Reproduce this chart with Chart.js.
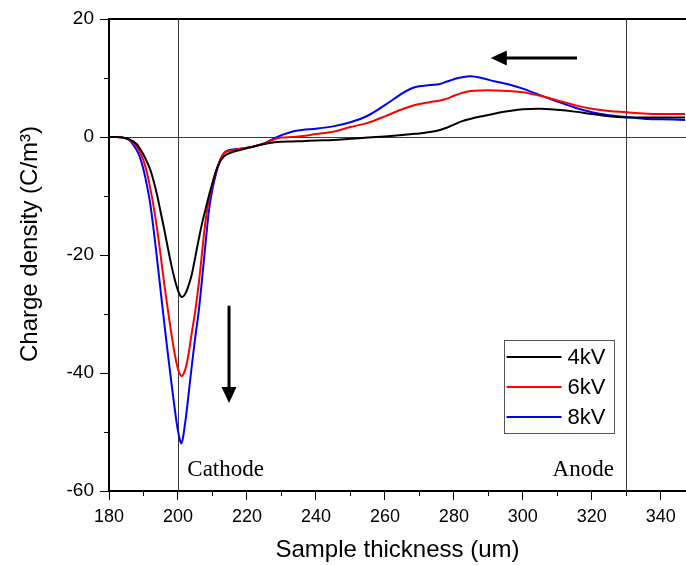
<!DOCTYPE html>
<html>
<head>
<meta charset="utf-8">
<script src="https://cdn.jsdelivr.net/npm/chart.js@4.4.1/dist/chart.umd.min.js"></script>
<style>
  html, body { margin: 0; padding: 0; background: #fff; }
  canvas { display: block; }
</style>
</head>
<body>
<canvas id="c" width="686" height="565"></canvas>
<script>
// ---- data ----
const thickness = [180,182,184,186,188,189,190,191,192,193,194,195,196,197,198,199,200,201,202,203,204,205,206,207,208,209,210,211,212,213,214,216,218,220,222,225,228,230,233,236,240,245,250,255,260,265,268,270,273,276,278,280,282,285,288,292,296,300,305,310,315,320,325,330,335,340,347];
const charge4kV = [0,0,-0.1,-0.4,-1.2,-2.0,-3.0,-4.2,-5.6,-7.6,-10.0,-12.8,-15.6,-18.6,-21.5,-24.0,-26.0,-27.1,-26.7,-25.3,-23.3,-20.4,-17.4,-14.6,-12.2,-9.9,-7.8,-5.8,-4.4,-3.5,-3.0,-2.5,-2.2,-1.9,-1.6,-1.2,-0.9,-0.8,-0.75,-0.7,-0.6,-0.5,-0.3,-0.1,0.1,0.35,0.5,0.6,0.85,1.2,1.6,2.1,2.6,3.1,3.5,4.0,4.4,4.7,4.8,4.6,4.3,3.9,3.5,3.3,3.3,3.3,3.3];
const charge6kV = [0,0,-0.1,-0.5,-1.6,-2.6,-4.0,-6.0,-8.8,-12.0,-15.8,-20.2,-24.8,-29.0,-33.0,-36.6,-39.3,-40.5,-39.6,-37.0,-33.2,-29.5,-25.0,-19.5,-14.2,-10.6,-8.0,-5.9,-4.2,-3.0,-2.5,-2.2,-2.0,-1.8,-1.6,-1.1,-0.4,-0.1,0.0,0.15,0.5,0.9,1.7,2.4,3.5,4.7,5.3,5.6,5.9,6.2,6.5,7.0,7.4,7.8,7.9,7.9,7.8,7.6,7.0,6.2,5.4,4.8,4.4,4.2,4.0,3.9,3.9];
const charge8kV = [0,0,-0.1,-0.6,-2.2,-3.5,-5.5,-8.2,-11.5,-16.0,-21.0,-26.2,-31.4,-36.4,-41.2,-45.8,-49.8,-51.9,-48.8,-44.0,-38.8,-34.0,-29.6,-24.0,-18.0,-12.4,-8.8,-6.3,-4.3,-3.0,-2.4,-2.1,-2.0,-1.8,-1.6,-1.1,-0.2,0.3,0.9,1.2,1.4,1.8,2.5,3.6,5.4,7.4,8.3,8.6,8.8,9.0,9.4,9.8,10.1,10.3,10.0,9.4,8.9,8.2,7.1,6.0,5.0,4.2,3.7,3.4,3.1,3.0,2.9];
const seriesLabels = ['4kV','6kV','8kV'];
const seriesColors = ['#000000','#ff0000','#0000ff'];
const xTickValues = [180,200,220,240,260,280,300,320,340];
const yTickValues = [-60,-40,-20,0,20];
const electrodeMarks = [{x:200, label:'Cathode'}, {x:330, label:'Anode'}];
const yTitle = 'Charge density (C/m³)';

const seriesValues = [charge4kV, charge6kV, charge8kV];
const datasets = seriesValues.map((vals, i) => ({
  label: seriesLabels[i],
  data: thickness.map((t, j) => ({x: t, y: vals[j]})),
  borderColor: seriesColors[i],
  backgroundColor: seriesColors[i],
  borderWidth: 2,
  pointRadius: 0,
  fill: false,
  tension: 0.35
}));

const SANS = '"Liberation Sans", Arial, sans-serif';

const decor = {
  id: 'decor',
  beforeDatasetsDraw(chart) {
    const {ctx, chartArea: a, scales: {x, y}} = chart;
    ctx.save();
    ctx.strokeStyle = '#3a3a3a';
    ctx.lineWidth = 1;
    electrodeMarks.forEach(m => {
      const px = Math.round(x.getPixelForValue(m.x)) + 0.5;
      ctx.beginPath(); ctx.moveTo(px, a.top); ctx.lineTo(px, a.bottom); ctx.stroke();
    });
    const py0 = Math.round(y.getPixelForValue(0)) + 0.5;
    ctx.beginPath(); ctx.moveTo(a.left, py0); ctx.lineTo(a.right, py0); ctx.stroke();
    ctx.restore();
  },
  afterDatasetsDraw(chart) {
    const {ctx, chartArea: a, scales: {x, y}} = chart;
    ctx.save();
    // top frame line
    ctx.strokeStyle = '#000'; ctx.lineWidth = 2;
    ctx.beginPath(); ctx.moveTo(a.left, a.top); ctx.lineTo(a.right, a.top); ctx.stroke();
    // minor ticks
    ctx.lineWidth = 1;
    for (let v = 190; v <= 347; v += 20) {
      const px = Math.round(x.getPixelForValue(v)) + 0.5;
      ctx.beginPath(); ctx.moveTo(px, a.bottom); ctx.lineTo(px, a.bottom + 5); ctx.stroke();
    }
    for (let v = -50; v <= 20; v += 20) {
      const py = Math.round(y.getPixelForValue(v)) + 0.5;
      ctx.beginPath(); ctx.moveTo(a.left, py); ctx.lineTo(a.left - 5, py); ctx.stroke();
    }
    // y axis title
    ctx.save();
    ctx.translate(30, (a.top + a.bottom) / 2 - 11);
    ctx.rotate(-Math.PI / 2);
    ctx.fillStyle = '#000';
    ctx.font = '24px ' + SANS;
    ctx.textAlign = 'center'; ctx.textBaseline = 'middle';
    ctx.fillText(yTitle, 0, 0);
    ctx.restore();
    // electrode labels
    ctx.fillStyle = '#000';
    ctx.font = '23px "Liberation Serif", "Times New Roman", serif';
    ctx.textBaseline = 'alphabetic';
    ctx.textAlign = 'left';
    ctx.fillText(electrodeMarks[0].label, x.getPixelForValue(202.7), y.getPixelForValue(-57.4));
    ctx.textAlign = 'right';
    ctx.fillText(electrodeMarks[1].label, x.getPixelForValue(326.4), y.getPixelForValue(-57.4));
    // arrows
    const arrow = (x1, y1, x2, y2) => {
      const X1 = x.getPixelForValue(x1), Y1 = y.getPixelForValue(y1);
      const X2 = x.getPixelForValue(x2), Y2 = y.getPixelForValue(y2);
      const ang = Math.atan2(Y2 - Y1, X2 - X1);
      const hl = 16, hw = 7.5;
      ctx.strokeStyle = '#000'; ctx.lineWidth = 3;
      ctx.beginPath(); ctx.moveTo(X1, Y1);
      ctx.lineTo(X2 - Math.cos(ang) * (hl - 2), Y2 - Math.sin(ang) * (hl - 2)); ctx.stroke();
      ctx.beginPath();
      ctx.moveTo(X2, Y2);
      ctx.lineTo(X2 - Math.cos(ang) * hl - Math.sin(ang) * hw, Y2 - Math.sin(ang) * hl + Math.cos(ang) * hw);
      ctx.lineTo(X2 - Math.cos(ang) * hl + Math.sin(ang) * hw, Y2 - Math.sin(ang) * hl - Math.cos(ang) * hw);
      ctx.closePath(); ctx.fill();
    };
    arrow(315.7, 13.4, 290.7, 13.4);
    arrow(214.8, -28.6, 214.8, -45.1);
    // legend box
    const lx = x.getPixelForValue(294.4), ly = y.getPixelForValue(-34.4);
    const lw = 110, lh = 93;
    ctx.strokeStyle = '#555'; ctx.lineWidth = 1;
    ctx.strokeRect(Math.round(lx) + 0.5, Math.round(ly) + 0.5, lw, lh);
    ctx.font = '22px ' + SANS;
    ctx.textAlign = 'left'; ctx.textBaseline = 'middle';
    chart.data.datasets.forEach((ds, i) => {
      const rowY = ly + 17 + i * 30;
      ctx.strokeStyle = ds.borderColor; ctx.lineWidth = 2;
      ctx.beginPath(); ctx.moveTo(lx + 3, rowY); ctx.lineTo(lx + 58, rowY); ctx.stroke();
      ctx.fillStyle = '#000';
      ctx.fillText(ds.label, lx + 64, rowY + 1);
    });
    ctx.restore();
  }
};

new Chart(document.getElementById('c'), {
  type: 'line',
  data: { datasets },
  options: {
    responsive: false,
    animation: false,
    layout: { padding: { left: 0, right: 0, top: 19, bottom: 0 } },
    plugins: { legend: { display: false }, tooltip: { enabled: false } },
    scales: {
      x: {
        type: 'linear', min: 180, max: 347.3,
        afterBuildTicks: s => { s.ticks = xTickValues.map(v => ({value: v})); },
        afterFit: s => { s.height = 74; },
        ticks: { color: '#000', font: { family: SANS, size: 18 }, padding: 6, maxRotation: 0, includeBounds: false },
        grid: { drawOnChartArea: false, tickLength: 9, tickColor: '#000', tickWidth: 1 },
        border: { color: '#000', width: 2 },
        title: { display: true, text: 'Sample thickness (um)', color: '#000', font: { family: SANS, size: 24 }, padding: { bottom: 0 } }
      },
      y: {
        type: 'linear', min: -60, max: 20,
        afterBuildTicks: s => { s.ticks = yTickValues.map(v => ({value: v})); },
        afterFit: s => { s.width = 109; },
        ticks: { color: '#000', font: { family: SANS, size: 19 }, padding: 6 },
        grid: { drawOnChartArea: false, tickLength: 9, tickColor: '#000', tickWidth: 1 },
        border: { color: '#000', width: 2 },
        title: { display: false }
      }
    }
  },
  plugins: [decor]
});
</script>
</body>
</html>
